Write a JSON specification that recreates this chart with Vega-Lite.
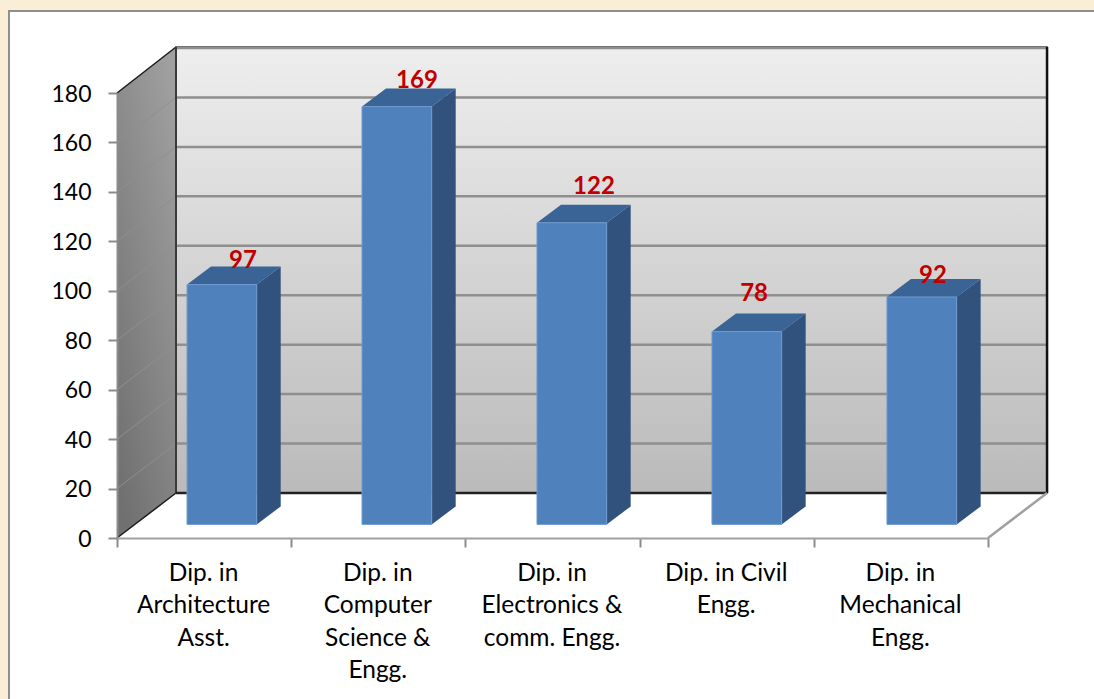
{
"$schema":"https://vega.github.io/schema/vega-lite/v6.json",
"width":871,"height":445,
"autosize":{"type":"none"},
"padding":{"left":117,"top":93,"right":106,"bottom":161},
"background":"#fbeed6",
"config":{"view":{"stroke":null},"font":"Lato"},
"datasets":{
"bars":[
{"category":"Dip. in Architecture Asst.","value":97},
{"category":"Dip. in Computer Science & Engg.","value":169},
{"category":"Dip. in Electronics & comm. Engg.","value":122},
{"category":"Dip. in Civil Engg.","value":78},
{"category":"Dip. in Mechanical Engg.","value":92}],
"ticks":[{"tick":0},{"tick":20},{"tick":40},{"tick":60},{"tick":80},{"tick":100},{"tick":120},{"tick":140},{"tick":160},{"tick":180}]
},
"resolve":{"scale":{"x":"independent"}},
"layer":[
{"layer":[
{"data":{"values":[{"a":-0.62,"b":6.5,"c":213.2,"d":-80}]},
 "mark":{"type":"rect","fill":"white","stroke":"#8e8e8e","strokeWidth":2},
 "encoding":{"x":{"field":"a","type":"quantitative","axis":null,"scale":{"domain":[0,5],"nice":false,"zero":false}},"x2":{"field":"b"},
 "y":{"field":"c","type":"quantitative","scale":{"domain":[0,180],"nice":false,"zero":false},"title":null,
   "axis":{"values":[0,20,40,60,80,100,120,140,160,180],"grid":false,"domainColor":"#8c8c8c","domainWidth":2,"tickColor":"#8c8c8c","tickWidth":2,"tickSize":9,"labelFontSize":23,"labelColor":"#000000","labelPadding":17,"labelOffset":1,"zindex":1,"title":null}},"y2":{"field":"d"}}},
{"data":{"values":[{"a":0.3387,"b":5.339,"c":198.6,"d":18.2}]},
 "mark":{"type":"rect","stroke":"#3a3a3a","strokeWidth":1.5,"fill":{"gradient":"linear","x1":0,"y1":0,"x2":0,"y2":1,"stops":[{"offset":0,"color":"#eeeeee"},{"offset":1,"color":"#bababa"}]}},
 "encoding":{"x":{"field":"a","type":"quantitative"},"x2":{"field":"b"},"y":{"field":"c","type":"quantitative"},"y2":{"field":"d"}}},
{"data":{"values":[{"a":0,"lo":0,"hi":180},{"a":0.3387,"lo":18.2,"hi":198.6}]},
 "mark":{"type":"area","orient":"vertical","fill":{"gradient":"linear","x1":0.8,"y1":0,"x2":0.2,"y2":1,"stops":[{"offset":0,"color":"#9f9f9f"},{"offset":1,"color":"#707070"}]}},
 "encoding":{"x":{"field":"a","type":"quantitative"},"y":{"field":"hi","type":"quantitative"},"y2":{"field":"lo"}}},
{"data":{"name":"ticks"},
 "transform":[{"filter":"datum.tick>0"},{"calculate":"datum.tick+18.2","as":"back"},{"calculate":"0.3387","as":"x0"},{"calculate":"5.339","as":"x1"}],
 "mark":{"type":"rule","color":"#8f8f8f","strokeWidth":2.5},
 "encoding":{"x":{"field":"x0","type":"quantitative"},"x2":{"field":"x1"},"y":{"field":"back","type":"quantitative"}}},
{"data":{"name":"ticks"},
 "transform":[{"filter":"datum.tick>0 && datum.tick<180"},{"calculate":"datum.tick+18.2","as":"back"},{"calculate":"0","as":"x0"},{"calculate":"0.3387","as":"x1"}],
 "mark":{"type":"rule","color":"#8f8f8f","strokeWidth":1},
 "encoding":{"x":{"field":"x0","type":"quantitative"},"x2":{"field":"x1"},"y":{"field":"tick","type":"quantitative"},"y2":{"field":"back"}}},
{"data":{"name":"ticks"},
 "transform":[{"filter":"datum.tick==0 || datum.tick==180"},{"calculate":"datum.tick==180 ? datum.tick+18.6 : datum.tick+18.2","as":"back"},{"calculate":"0","as":"x0"},{"calculate":"0.3387","as":"x1"}],
 "mark":{"type":"rule","color":"#1a1a1a","strokeWidth":1.5},
 "encoding":{"x":{"field":"x0","type":"quantitative"},"x2":{"field":"x1"},"y":{"field":"tick","type":"quantitative"},"y2":{"field":"back"}}},
{"data":{"name":"ticks"},
 "transform":[{"filter":"datum.tick==0"},{"calculate":"datum.tick+18.2","as":"back"},{"calculate":"0.3387","as":"x0"},{"calculate":"0.3387","as":"x1"},{"calculate":"198.6","as":"top"}],
 "mark":{"type":"rule","color":"#3a3a3a","strokeWidth":2},
 "encoding":{"x":{"field":"x0","type":"quantitative"},"y":{"field":"back","type":"quantitative"},"y2":{"field":"top"}}},
{"data":{"name":"ticks"},
 "transform":[{"filter":"datum.tick==0"},{"calculate":"datum.tick+18.2","as":"back"},{"calculate":"5.339","as":"x0"},{"calculate":"198.6","as":"top"}],
 "mark":{"type":"rule","color":"#111111","strokeWidth":2.5},
 "encoding":{"x":{"field":"x0","type":"quantitative"},"y":{"field":"back","type":"quantitative"},"y2":{"field":"top"}}},
{"data":{"name":"ticks"},
 "transform":[{"filter":"datum.tick==0"},{"calculate":"datum.tick+18.2","as":"back"},{"calculate":"0.3387","as":"x0"},{"calculate":"5.339","as":"x1"}],
 "mark":{"type":"rule","color":"#222222","strokeWidth":2.5},
 "encoding":{"x":{"field":"x0","type":"quantitative"},"x2":{"field":"x1"},"y":{"field":"back","type":"quantitative"}}},
{"data":{"name":"ticks"},
 "transform":[{"filter":"datum.tick==0"},{"calculate":"datum.tick+18.2","as":"back"},{"calculate":"5","as":"x0"},{"calculate":"5.339","as":"x1"}],
 "mark":{"type":"rule","color":"#a0a0a0","strokeWidth":2.5},
 "encoding":{"x":{"field":"x0","type":"quantitative"},"x2":{"field":"x1"},"y":{"field":"tick","type":"quantitative"},"y2":{"field":"back"}}},
{"data":{"name":"bars"},
 "transform":[{"window":[{"op":"row_number","as":"rank"}]},{"calculate":"(datum.rank-1)*1.0045+0.402","as":"left"},{"calculate":"datum.left+0.4","as":"right"},{"calculate":"[0,1]","as":"d"},{"flatten":["d"]},{"calculate":"datum.right+datum.d*0.1378","as":"sx"},{"calculate":"datum.value+5.5+datum.d*7.28","as":"st"},{"calculate":"5.5+datum.d*7.28","as":"sb"}],
 "mark":{"type":"area","orient":"vertical","color":"#31527c"},
 "encoding":{"x":{"field":"sx","type":"quantitative"},"y":{"field":"st","type":"quantitative"},"y2":{"field":"sb"},"detail":{"field":"category"}}},
{"data":{"name":"bars"},
 "transform":[{"window":[{"op":"row_number","as":"rank"}]},{"calculate":"(datum.rank-1)*1.0045+0.402","as":"left"},{"calculate":"datum.left+0.4","as":"right"},{"calculate":"[0,1]","as":"d"},{"flatten":["d"]},{"calculate":"datum.left+datum.d*0.1378","as":"tl"},{"calculate":"datum.right+datum.d*0.1378","as":"tr"},{"calculate":"datum.value+5.5+datum.d*7.28","as":"ty"}],
 "mark":{"type":"area","orient":"horizontal","color":"#3a6396"},
 "encoding":{"y":{"field":"ty","type":"quantitative"},"x":{"field":"tl","type":"quantitative"},"x2":{"field":"tr"},"detail":{"field":"category"}}},
{"data":{"name":"bars"},
 "transform":[{"window":[{"op":"row_number","as":"rank"}]},{"calculate":"(datum.rank-1)*1.0045+0.402","as":"left"},{"calculate":"datum.left+0.4","as":"right"},{"calculate":"datum.value+5.5","as":"top"},{"calculate":"5.5","as":"base"}],
 "mark":{"type":"rect","fill":"#4f81bd","stroke":"#6f9ad0","strokeWidth":1},
 "encoding":{"x":{"field":"left","type":"quantitative"},"x2":{"field":"right"},"y":{"field":"top","type":"quantitative"},"y2":{"field":"base"}}},
{"data":{"name":"bars"},
 "transform":[{"window":[{"op":"row_number","as":"rank"}]},{"calculate":"[0.723,1.722,2.738,3.657,4.684][datum.rank-1]","as":"lx"},{"calculate":"[112.1,184.9,142,98.7,106][datum.rank-1]","as":"ly"}],
 "mark":{"type":"text","color":"#c00000","fontSize":24,"fontWeight":"bold","align":"center","baseline":"middle"},
 "encoding":{"x":{"field":"lx","type":"quantitative"},"y":{"field":"ly","type":"quantitative"},"text":{"field":"value","type":"quantitative"}}}
]},
{"data":{"name":"bars"},
 "mark":{"type":"rule","opacity":0},
 "encoding":{"x":{"field":"category","type":"nominal","sort":null,"scale":{"paddingInner":0,"paddingOuter":0},"title":null,
  "axis":{"orient":"bottom","zindex":1,"title":null,"labelAngle":0,"domainColor":"#a0a0a0","domainWidth":2,"tickColor":"#8c8c8c","tickWidth":2,"tickSize":9,"tickBand":"extent","labelFontSize":24.5,"labelColor":"#000000","labelPadding":14,"labelOffset":-1,"labelLineHeight":32.5,"labelLimit":0,"labelBaseline":"top",
  "labelExpr":"{'Dip. in Architecture Asst.':['Dip. in','Architecture','Asst.'],'Dip. in Computer Science & Engg.':['Dip. in','Computer','Science &','Engg.'],'Dip. in Electronics & comm. Engg.':['Dip. in','Electronics &','comm. Engg.'],'Dip. in Civil Engg.':['Dip. in Civil','Engg.'],'Dip. in Mechanical Engg.':['Dip. in','Mechanical','Engg.']}[datum.label]"}}}}
]}
